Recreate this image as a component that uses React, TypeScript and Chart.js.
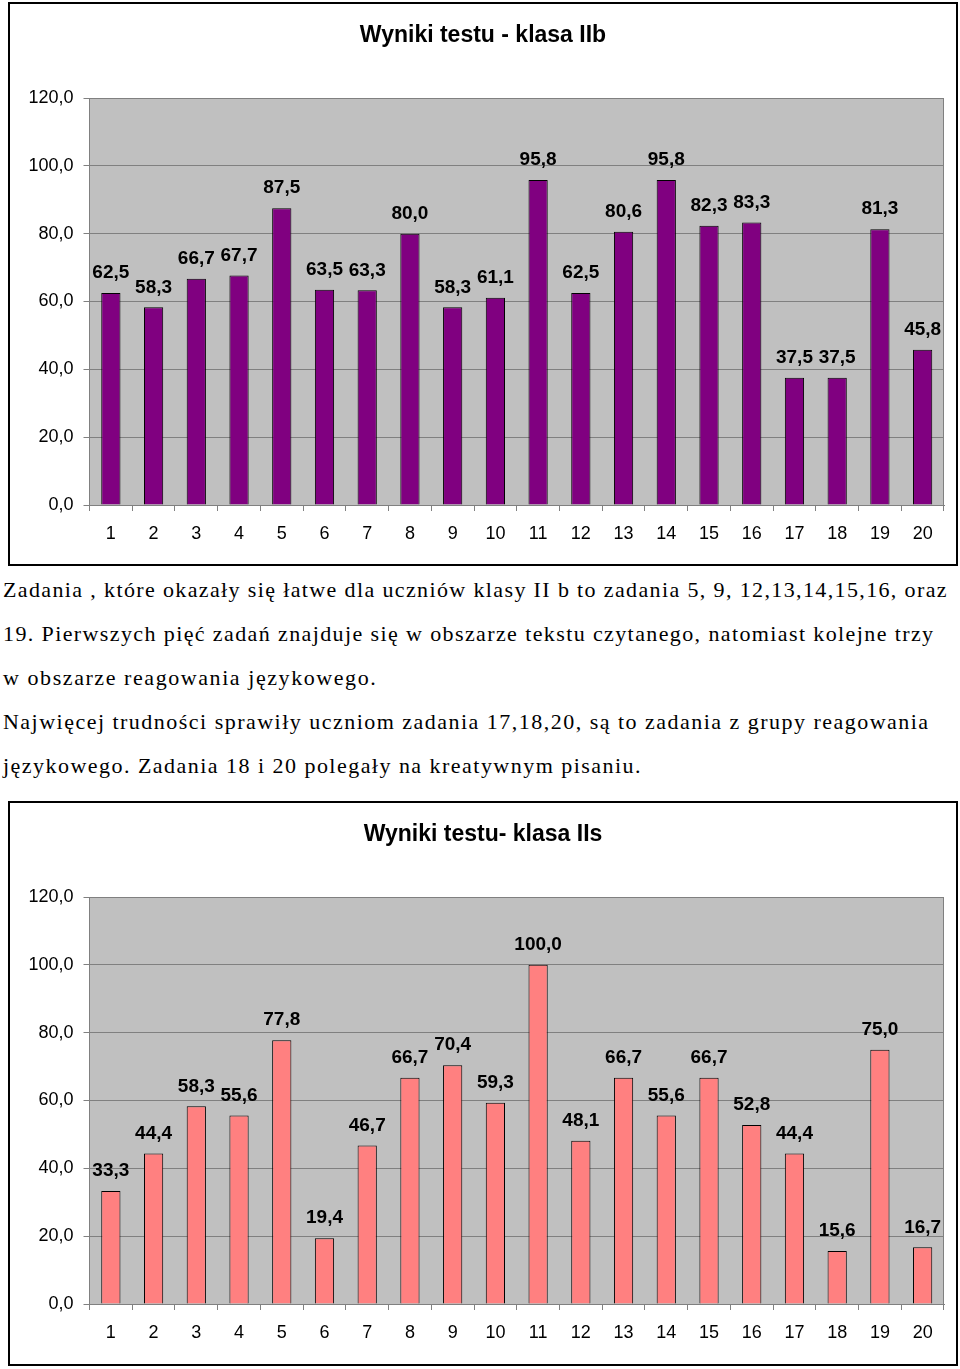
import React, { useEffect, useRef } from "react";
import { Chart, registerables } from "chart.js";

Chart.register(...registerables);

const categories = ["1","2","3","4","5","6","7","8","9","10","11","12","13","14","15","16","17","18","19","20"];
const valuesIIb = [62.5, 58.3, 66.7, 67.7, 87.5, 63.5, 63.3, 80.0, 58.3, 61.1, 95.8, 62.5, 80.6, 95.8, 82.3, 83.3, 37.5, 37.5, 81.3, 45.8];
const valuesIIs = [33.3, 44.4, 58.3, 55.6, 77.8, 19.4, 46.7, 66.7, 70.4, 59.3, 100.0, 48.1, 66.7, 55.6, 66.7, 52.8, 44.4, 15.6, 75.0, 16.7];
const titleIIb = "Wyniki testu - klasa IIb";
const titleIIs = "Wyniki testu- klasa IIs";
const paragraphLines = [
  "Zadania , które okazały się łatwe dla uczniów klasy II b to zadania 5, 9, 12,13,14,15,16, oraz",
  "19. Pierwszych pięć zadań znajduje się w obszarze tekstu czytanego, natomiast kolejne trzy",
  "w obszarze reagowania językowego.",
  "Najwięcej trudności sprawiły uczniom zadania 17,18,20, są to zadania z grupy reagowania",
  "językowego. Zadania 18 i 20 polegały na kreatywnym pisaniu.",
];

const FONT = "'Liberation Sans', Arial, sans-serif";
const fmt = (v: number) => v.toFixed(1).replace(".", ",");
const lineSpacing = [1.37, 1.39, 1.57, 1.48, 1.47];

const plotBg = {
  id: "plotBg",
  beforeDraw(chart: any) {
    const { ctx, chartArea: a } = chart;
    ctx.save();
    ctx.fillStyle = "#C0C0C0";
    ctx.fillRect(a.left, a.top, a.right - a.left, a.bottom - a.top);
    ctx.restore();
  },
  beforeDatasetsDraw(chart: any) {
    const { ctx, chartArea: a } = chart;
    ctx.save();
    ctx.strokeStyle = "#808080";
    ctx.lineWidth = 1;
    ctx.beginPath();
    ctx.moveTo(a.left, a.top + 0.5);
    ctx.lineTo(a.right - 0.5, a.top + 0.5);
    ctx.lineTo(a.right - 0.5, a.bottom);
    ctx.stroke();
    ctx.restore();
  },
};

const valueLabels = {
  id: "valueLabels",
  afterDatasetsDraw(chart: any) {
    const { ctx } = chart;
    const meta = chart.getDatasetMeta(0);
    const data = chart.data.datasets[0].data as number[];
    ctx.save();
    ctx.font = `bold 19px ${FONT}`;
    ctx.fillStyle = "#000";
    ctx.textAlign = "center";
    ctx.textBaseline = "middle";
    meta.data.forEach((el: any, i: number) => {
      ctx.fillText(fmt(data[i]), el.x, el.y - 20);
    });
    ctx.restore();
  },
};

function BarChart({ values, title, color, height, xAxisHeight }: { values: number[]; title: string; color: string; height: number; xAxisHeight: number }) {
  const ref = useRef<HTMLCanvasElement>(null);
  useEffect(() => {
    if (!ref.current) return;
    const chart = new Chart(ref.current, {
      type: "bar",
      data: {
        labels: categories,
        datasets: [
          {
            data: values,
            backgroundColor: color,
            borderColor: "#000",
            borderWidth: 1,
            barPercentage: 0.45,
            categoryPercentage: 1,
          },
        ],
      },
      options: {
        responsive: false,
        animation: false,
        devicePixelRatio: 1,
        layout: { padding: { left: 12, right: 12, top: 0, bottom: 0 } },
        plugins: {
          legend: { display: false },
          tooltip: { enabled: false },
          title: {
            display: true,
            text: title,
            color: "#000",
            font: { family: FONT, size: 23, weight: "bold" },
            padding: { top: 18.2, bottom: 48.2 },
          },
        },
        scales: {
          x: {
            type: "category",
            offset: true,
            grid: { display: true, drawOnChartArea: false, drawTicks: true, tickLength: 6, color: "#808080", offset: true },
            border: { display: true, color: "#808080" },
            ticks: { color: "#000", font: { family: FONT, size: 18 }, padding: 12, maxRotation: 0, autoSkip: false },
            afterFit: (s: any) => { s.height = xAxisHeight; },
          },
          y: {
            min: 0,
            max: 120,
            grid: { color: "#808080", tickLength: 6, drawTicks: true },
            border: { display: true, color: "#808080" },
            ticks: {
              stepSize: 20,
              color: "#000",
              font: { family: FONT, size: 18 },
              padding: 10,
              callback: (v: any) => fmt(Number(v)),
            },
            afterFit: (s: any) => { s.width = 67.5; },
          },
        },
      },
      plugins: [plotBg, valueLabels],
    });
    return () => chart.destroy();
  }, [values, title, color, xAxisHeight]);
  return <canvas ref={ref} width={946} height={height} style={{ display: "block", width: 946, height }} />;
}

export default function App() {
  return (
    <div style={{ position: "absolute", left: 0, top: 0, width: 960, height: 1369, background: "#fff" }}>
      <div style={{ position: "absolute", left: 8, top: 2, width: 950, height: 564, border: "2px solid #000", boxSizing: "border-box" }}>
        <BarChart values={valuesIIb} title={titleIIb} color="#800080" height={560} xAxisHeight={59} />
      </div>
      <div
        style={{
          position: "absolute",
          left: 3,
          top: 567.6,
          fontFamily: "'Liberation Serif', 'Times New Roman', serif",
          fontSize: 22,
          lineHeight: "44px",
          color: "#000",
          whiteSpace: "nowrap",
        }}
      >
        {paragraphLines.map((l, i) => (
          <div key={i} style={{ letterSpacing: `${lineSpacing[i]}px` }}>{l}</div>
        ))}
      </div>
      <div style={{ position: "absolute", left: 8, top: 801, width: 950, height: 565, border: "2px solid #000", boxSizing: "border-box" }}>
        <BarChart values={valuesIIs} title={titleIIs} color="#FF8080" height={561} xAxisHeight={60} />
      </div>
    </div>
  );
}
